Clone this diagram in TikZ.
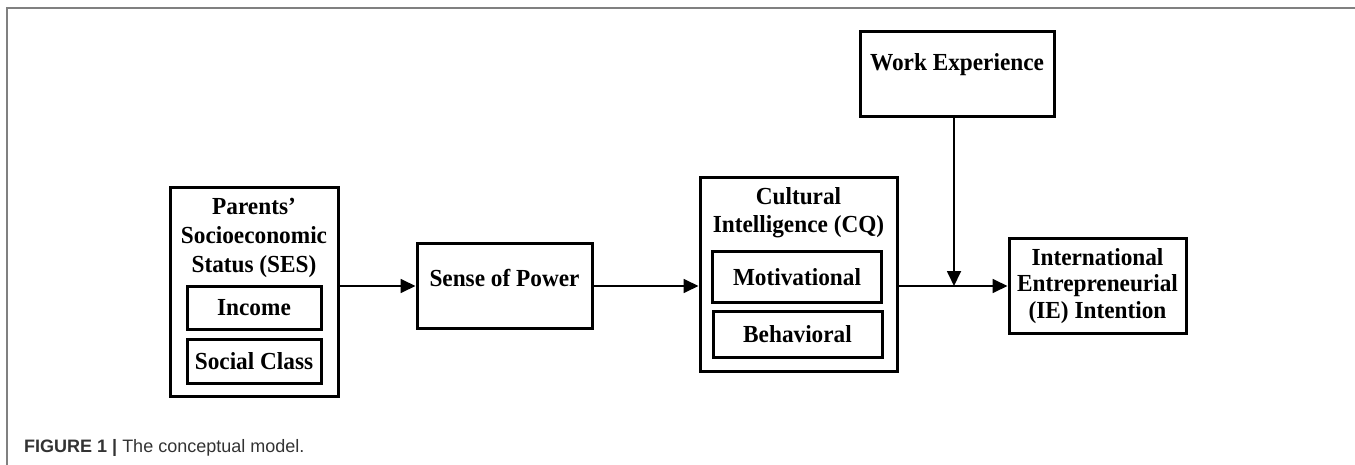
\documentclass[tikz,border=0pt]{standalone}
\usepackage{fontspec}
\setmainfont{Liberation Serif}[FakeStretch=0.95]
\newfontfamily\capfont{Liberation Sans}
\usetikzlibrary{arrows.meta}

\begin{document}
\begin{tikzpicture}[x=1pt, y=-1pt,
  box/.style={draw, line width=3pt, inner sep=0pt},
  title/.style={align=center, inner sep=0pt, font=\bfseries\fontsize{24.5}{29}\selectfont},
  item/.style={box, title, minimum width=134pt},
  link/.style={line width=1.8pt, -{Triangle[length=15pt,width=14pt]}}]
  \useasboundingbox (0,0) rectangle (1355,465);
  \draw[gray, line width=1.5pt] (7,465)--(7,8)--(1355,8); % frame

  % parents' SES
  \node[box, minimum width=168pt, minimum height=208pt] (ses) at (254,292) {};
  \node[title] (sestitle) at (254,238) {Parents’\\Socioeconomic\\Status (SES)};
  \node[item, minimum height=43pt] (income) at (254,307.5) {Income};
  \node[item, minimum height=44pt] (social) at (254,361) {Social Class};

  % sense of power
  \node[box, minimum width=175pt, minimum height=84pt] (power) at (504.5,286) {};
  \node[title] (powertitle) at (504.5,278) {Sense of Power};

  % cultural intelligence
  \node[box, minimum width=197pt, minimum height=193pt] (cq) at (798.5,274.5) {};
  \node[title, font=\bfseries\fontsize{24.5}{28}\selectfont] (cqtitle) at (798.5,213) {Cultural\\Intelligence (CQ)};
  \node[item, minimum width=169pt, minimum height=50pt] (motiv) at (797,277) {Motivational};
  \node[item, minimum width=169pt, minimum height=46pt] (behav) at (797.5,334) {Behavioral};

  % work experience
  \node[box, minimum width=194pt, minimum height=85pt] (we) at (957,74.5) {};
  \node[title] (wetitle) at (957,65) {Work Experience};

  % IE intention
  \node[box, title, minimum width=177pt, minimum height=94pt,
    font=\bfseries\fontsize{24.5}{26.5}\selectfont] (ie) at (1097.5,286)
    {International\\Entrepreneurial\\(IE) Intention};

  \draw[link] (ses.east |- power.west) -- (power.west);
  \draw[link] (power.east) -- (power.east -| cq.west);
  \draw[link] (cq.east |- ie.west) -- (ie.west);
  \coordinate (join) at (954,286);
  \draw[link] (we.south -| join) -- (join); % moderator

  \node[anchor=base west, inner sep=0pt, text=black!80,
    font=\capfont\fontsize{18}{20}\selectfont] (caption) at (24,452)
    {\textbf{FIGURE 1 |} The conceptual model.};
\end{tikzpicture}
\end{document}
